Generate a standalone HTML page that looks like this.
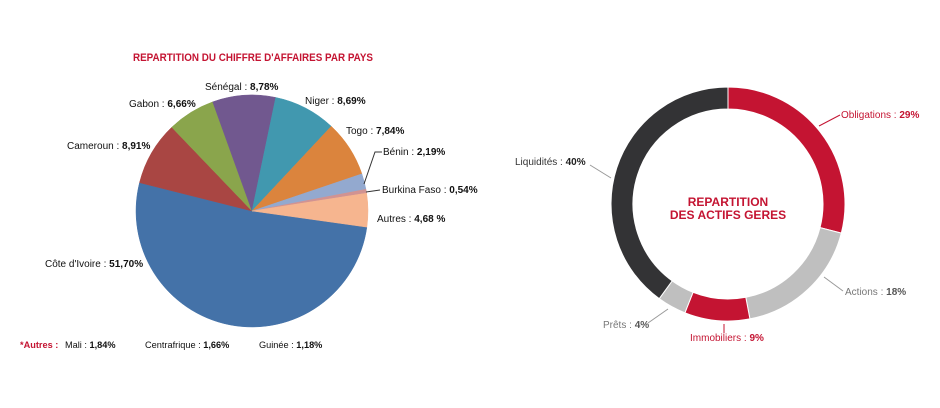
<!DOCTYPE html>
<html><head><meta charset="utf-8">
<style>
body{margin:0;background:#fff;}
svg{display:block;font-family:"Liberation Sans",sans-serif;}
</style></head>
<body>
<svg id="c" width="940" height="408" viewBox="0 0 940 408">
<rect width="940" height="408" fill="#fff"/>
<text x="253" y="61" text-anchor="middle" font-size="11" font-weight="bold" fill="#c41432" textLength="240" lengthAdjust="spacingAndGlyphs">REPARTITION DU CHIFFRE D'AFFAIRES PAR PAYS</text>
<g id="pie"></g>
<g id="pielabels" font-size="10" fill="#111"></g>
<g font-size="9.2" fill="#111">
<text x="20" y="348" fill="#c41432" font-weight="bold">*Autres :</text>
<text x="65" y="348">Mali : <tspan font-weight="bold">1,84%</tspan></text>
<text x="145" y="348">Centrafrique : <tspan font-weight="bold">1,66%</tspan></text>
<text x="259" y="348">Guinée : <tspan font-weight="bold">1,18%</tspan></text>
</g>
<g id="donut"></g>
<g id="donutlabels" font-size="10"></g>
<text x="728" y="206" text-anchor="middle" font-size="12" font-weight="bold" fill="#c41432">REPARTITION</text>
<text x="728" y="219" text-anchor="middle" font-size="12" font-weight="bold" fill="#c41432">DES ACTIFS GERES</text>
</svg>
<script>
const pieCategories=["Côte d'Ivoire","Cameroun","Gabon","Sénégal","Niger","Togo","Bénin","Burkina Faso","Autres"];
const pieValues=[51.70,8.91,6.66,8.78,8.69,7.84,2.19,0.54,4.68];
const pieLabelText=["51,70%","8,91%","6,66%","8,78%","8,69%","7,84%","2,19%","0,54%","4,68 %"];
const donutCategories=["Obligations","Actions","Immobiliers","Prêts","Liquidités"];
const donutValues=[29,18,9,4,40];

const NS="http://www.w3.org/2000/svg";
function mk(tag,attrs,parent){const e=document.createElementNS(NS,tag);for(const k in attrs)e.setAttribute(k,attrs[k]);parent.appendChild(e);return e;}
function pt(cx,cy,r,a){const t=a*Math.PI/180;return [cx+r*Math.cos(t),cy+r*Math.sin(t)];}

// Pie
const pieColors=["#4472a8","#a94643","#8aa54c","#71588f","#4198af","#db843d","#93a9cf","#d19392","#f6b58f"];
const pcx=252,pcy=211,pr=116;
const pieG=document.getElementById('pie');
const pieTotal=pieValues.reduce((a,b)=>a+b,0);
let ang=8;
pieValues.forEach((v,i)=>{
  const sweep=v/pieTotal*360;
  const [x1,y1]=pt(pcx,pcy,pr,ang),[x2,y2]=pt(pcx,pcy,pr,ang+sweep);
  const p=mk('path',{d:`M${pcx},${pcy}L${x1},${y1}A${pr},${pr} 0 ${sweep>180?1:0} 1 ${x2},${y2}Z`,fill:pieColors[i],stroke:pieColors[i],'stroke-width':0.5},pieG);
  
  
  ang+=sweep;
});
const pieLabelPos=[[45,267],[67,149],[129,107],[205,90],[305,104],[346,134],[383,155],[382,193],[377,222]];
const pl=document.getElementById('pielabels');
pieCategories.forEach((c,i)=>{
  const t=mk('text',{x:pieLabelPos[i][0],y:pieLabelPos[i][1]},pl);
  
  
  t.appendChild(document.createTextNode(c+" : "));
  const s=mk('tspan',{'font-weight':'bold'},t);s.textContent=pieLabelText[i];
});
mk('polyline',{points:"364,184 375,152 382,152",fill:"none",stroke:"#333",'stroke-width':1},pl);
mk('polyline',{points:"366,192 380,190",fill:"none",stroke:"#333",'stroke-width':1},pl);

// Donut
const donutColors=["#c41432","#bfbfbf","#c41432","#bfbfbf","#333335"];
const dcx=728,dcy=204,dro=117,dri=95;
const dG=document.getElementById('donut');
const dTotal=donutValues.reduce((a,b)=>a+b,0);
let da=-90;
donutValues.forEach((v,i)=>{
  const sw=v/dTotal*360;
  const [a1,b1]=pt(dcx,dcy,dro,da),[a2,b2]=pt(dcx,dcy,dro,da+sw);
  const [c1,e1]=pt(dcx,dcy,dri,da+sw),[c2,e2]=pt(dcx,dcy,dri,da);
  const lg=sw>180?1:0;
  const p=mk('path',{d:`M${a1},${b1}A${dro},${dro} 0 ${lg} 1 ${a2},${b2}L${c1},${e1}A${dri},${dri} 0 ${lg} 0 ${c2},${e2}Z`,fill:donutColors[i],stroke:'#fff','stroke-width':1},dG);
  
  
  da+=sw;
});
const dLab=[[841,118,"#c41432","#c41432",[819,126,840,115]],[845,295,"#777","#555",[824,277,843,291]],[690,341,"#c41432","#c41432",[724,324,724,333]],[603,328,"#777","#555",[648,323,668,309]],[515,165,"#333","#222",[590,165,611,178]]];
const dl=document.getElementById('donutlabels');
donutCategories.forEach((c,i)=>{
  const L=dLab[i];
  const t=mk('text',{x:L[0],y:L[1],fill:L[2]},dl);
  
  
  t.appendChild(document.createTextNode(c+" : "));
  const s=mk('tspan',{'font-weight':'bold',fill:L[3]},t);s.textContent=donutValues[i]+"%";
  const ln=mk('line',{x1:L[4][0],y1:L[4][1],x2:L[4][2],y2:L[4][3],stroke:i==0||i==2?"#c41432":"#999",'stroke-width':1},dl);
  
  
});
</script>
</body></html>
